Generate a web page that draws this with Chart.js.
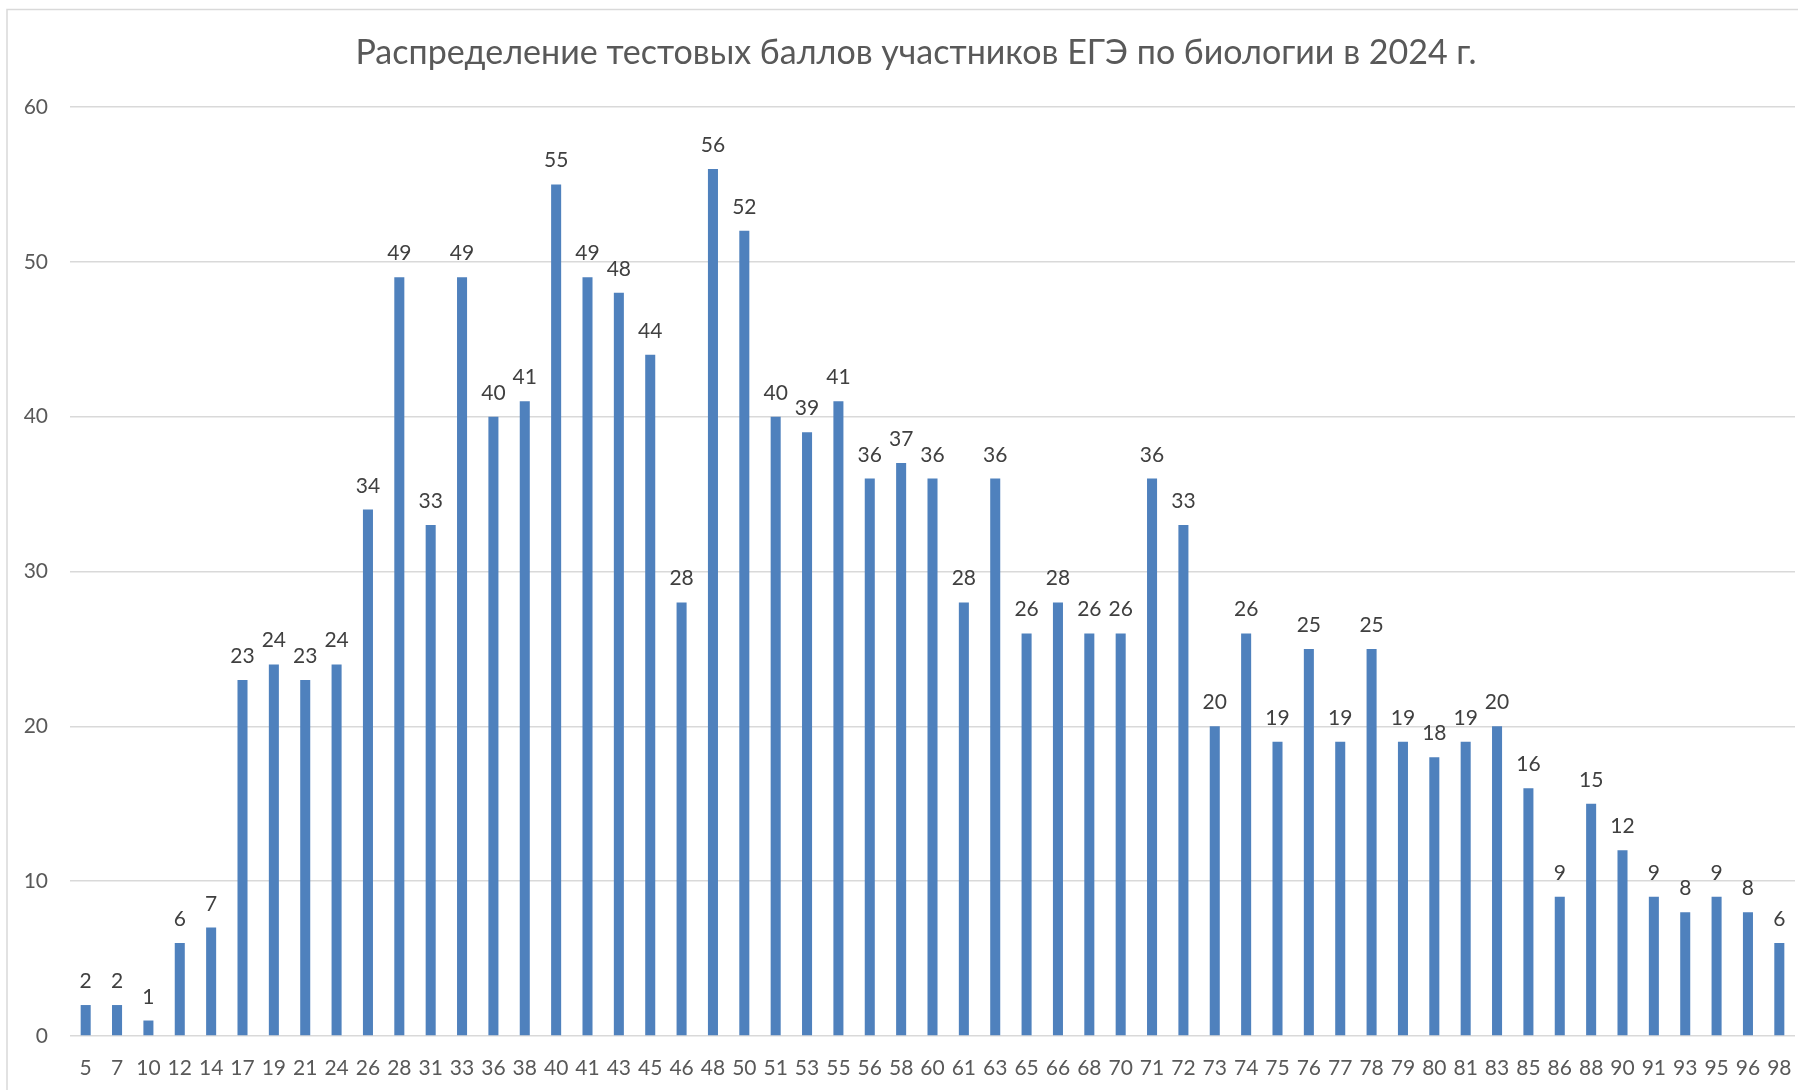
<!DOCTYPE html>
<html lang="ru">
<head>
<meta charset="utf-8">
<title>ЕГЭ биология 2024</title>
<script src="https://cdn.jsdelivr.net/npm/chart.js@4.4.1/dist/chart.umd.min.js"></script>
<style>
    html, body { margin: 0; padding: 0; background: #ffffff; }
    #wrap { width: 1798px; height: 1090px; position: relative; }
</style>
</head>
<body>
<div id="wrap"><canvas id="scoreChart" width="1798" height="1090"></canvas></div>
<script>

const CHART_TITLE = 'Распределение тестовых баллов участников ЕГЭ по биологии в 2024 г.';

// test score (x axis)
const scores = [
    5, 7, 10, 12, 14, 17, 19, 21, 24, 26,
    28, 31, 33, 36, 38, 40, 41, 43, 45, 46,
    48, 50, 51, 53, 55, 56, 58, 60, 61, 63,
    65, 66, 68, 70, 71, 72, 73, 74, 75, 76,
    77, 78, 79, 80, 81, 83, 85, 86, 88, 90,
    91, 93, 95, 96, 98
];

// number of participants with that score
const participants = [
    2, 2, 1, 6, 7, 23, 24, 23, 24, 34,
    49, 33, 49, 40, 41, 55, 49, 48, 44, 28,
    56, 52, 40, 39, 41, 36, 37, 36, 28, 36,
    26, 28, 26, 26, 36, 33, 20, 26, 19, 25,
    19, 25, 19, 18, 19, 20, 16, 9, 15, 12,
    9, 8, 9, 8, 6
];

const Y_MAX = 60;
const Y_STEP = 10;

const FONT = 'Lato, "Open Sans", sans-serif';
const BAR_COLOR = '#4F81BD';
const GRID_COLOR = '#D9D9D9';
const AXIS_TEXT = '#595959';
const LABEL_TEXT = '#404040';


// frame, white background and the title
const frameAndTitle = {
    id: 'frameAndTitle',
    beforeDraw(chart) {
        const ctx = chart.ctx;
        ctx.save();
        ctx.fillStyle = '#ffffff';
        ctx.fillRect(0, 0, chart.width, chart.height);
        ctx.strokeStyle = GRID_COLOR;
        ctx.lineWidth = 1.5;
        ctx.strokeRect(7, 9.5, chart.width + 40, chart.height + 40);

        ctx.fillStyle = AXIS_TEXT;
        ctx.font = '34px ' + FONT;
        ctx.textAlign = 'center';
        ctx.textBaseline = 'middle';
        ctx.fillText(CHART_TITLE, 916, 53);
        ctx.restore();
    }
};

// value above every bar
const barValues = {
    id: 'barValues',
    afterDatasetsDraw(chart) {
        const ctx = chart.ctx;
        const meta = chart.getDatasetMeta(0);
        ctx.save();
        ctx.fillStyle = LABEL_TEXT;
        ctx.font = '21px ' + FONT;
        ctx.textAlign = 'center';
        ctx.textBaseline = 'alphabetic';
        meta.data.forEach((bar, i) => {
            ctx.fillText(String(participants[i]), bar.x, bar.y - 17);
        });
        ctx.restore();
    }
};


function drawChart() {
    const ctx = document.getElementById('scoreChart').getContext('2d');

    window.chartInstance = new Chart(ctx, {
        type: 'bar',
        data: {
            labels: scores.map(String),
            datasets: [{
                label: 'Участники',
                data: participants,
                backgroundColor: BAR_COLOR,
                borderWidth: 0,
                categoryPercentage: 0.32,
                barPercentage: 1
            }]
        },
        options: {
            responsive: false,
            animation: false,
            devicePixelRatio: 1,
            layout: {
                padding: { top: 107, left: 0, right: 3, bottom: 0 }
            },
            scales: {
                x: {
                    grid: { display: false, drawTicks: false },
                    border: { display: false },
                    ticks: {
                        autoSkip: false,
                        maxRotation: 0,
                        minRotation: 0,
                        padding: 20,
                        color: AXIS_TEXT,
                        font: { family: FONT, size: 21 }
                    },
                    afterFit(scale) {
                        scale.height = 54;
                        // the end labels fit inside the first/last category
                        scale.paddingLeft = 0;
                        scale.paddingRight = 0;
                    }
                },
                y: {
                    min: 0,
                    max: Y_MAX,
                    grid: {
                        color: GRID_COLOR,
                        lineWidth: 1.5,
                        drawTicks: false
                    },
                    border: { display: false },
                    ticks: {
                        stepSize: Y_STEP,
                        padding: 22,
                        color: AXIS_TEXT,
                        font: { family: FONT, size: 21 }
                    },
                    afterFit(scale) {
                        scale.width = 70;
                    }
                }
            },
            plugins: {
                legend: { display: false },
                title: { display: false },
                tooltip: { enabled: false }
            }
        },
        plugins: [frameAndTitle, barValues]
    });
}


document.fonts.load('21px Lato').then(drawChart, drawChart);
</script>
</body>
</html>
